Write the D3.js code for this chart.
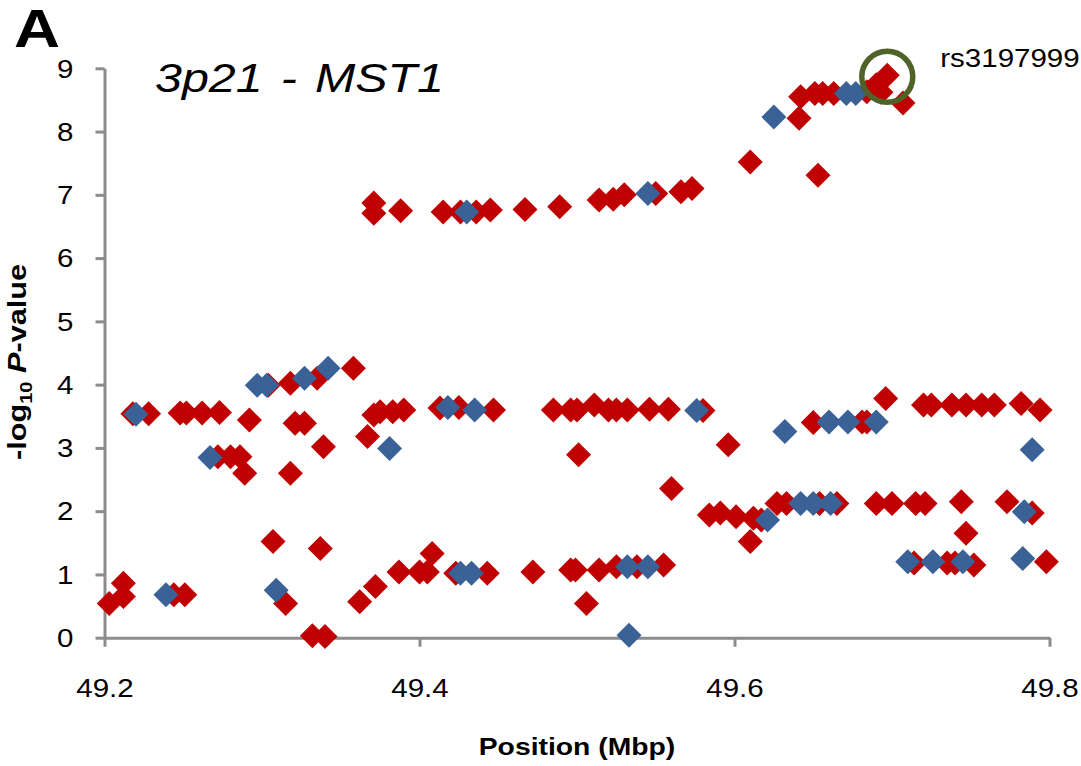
<!DOCTYPE html>
<html>
<head>
<meta charset="utf-8">
<script src="https://cdn.jsdelivr.net/npm/d3@7"></script>
<style>
  html, body { margin: 0; padding: 0; background: #fff; }
  svg { display: block; }
  text { font-family: "Liberation Sans", Arial, sans-serif; fill: #000; }
</style>
</head>
<body>
<svg id="chart" width="1081" height="766"></svg>
<script>
// ---- data ----
const panelLabel = "A";
const regionTitle = "3p21 - MST1";
const xLabel = "Position (Mbp)";
const xTickValues = [49.2, 49.4, 49.6, 49.8];
const yTickValues = [0, 1, 2, 3, 4, 5, 6, 7, 8, 9];

// red series: [position Mbp, -log10 P]
const redPoints = [
  [49.203,0.54],[49.212,0.65],[49.212,0.86],[49.218,3.54],[49.228,3.54],
  [49.244,0.68],[49.251,0.68],[49.248,3.55],[49.252,3.55],[49.262,3.55],
  [49.273,3.56],[49.292,3.44],[49.272,2.86],[49.280,2.86],[49.286,2.86],
  [49.289,2.60],[49.304,3.99],[49.318,4.02],[49.335,4.10],[49.358,4.26],
  [49.307,1.52],[49.315,0.54],[49.318,2.60],[49.321,3.39],[49.327,3.39],
  [49.337,1.41],[49.339,3.02],[49.332,0.03],[49.340,0.02],
  [49.362,0.57],[49.372,0.81],[49.387,1.04],[49.400,1.04],[49.405,1.04],
  [49.408,1.33],[49.423,1.02],[49.443,1.02],[49.472,1.04],[49.496,1.07],
  [49.499,1.07],[49.514,1.07],[49.525,1.12],[49.506,0.54],[49.538,1.12],
  [49.555,1.15],
  [49.371,3.52],[49.375,3.57],[49.383,3.57],[49.390,3.60],[49.367,3.18],
  [49.413,3.63],[49.425,3.64],[49.447,3.60],[49.485,3.60],[49.496,3.60],
  [49.500,3.60],[49.511,3.68],[49.520,3.60],[49.525,3.60],[49.532,3.60],
  [49.546,3.61],[49.558,3.61],[49.580,3.59],[49.501,2.89],[49.596,3.05],
  [49.560,2.36],[49.650,3.40],[49.681,3.41],[49.684,3.41],[49.696,3.78],
  [49.720,3.68],[49.725,3.68],[49.738,3.68],[49.747,3.68],[49.757,3.68],
  [49.765,3.68],[49.782,3.70],[49.794,3.60],
  [49.584,1.94],[49.591,1.97],[49.601,1.91],[49.612,1.89],[49.617,1.86],
  [49.627,2.12],[49.633,2.12],[49.654,2.12],[49.665,2.12],[49.690,2.12],
  [49.700,2.12],[49.715,2.12],[49.721,2.12],[49.744,2.15],[49.773,2.15],
  [49.789,1.97],[49.610,1.52],[49.747,1.65],
  [49.714,1.18],[49.735,1.18],[49.740,1.18],[49.752,1.15],[49.798,1.20],
  [49.371,6.87],[49.371,6.71],[49.388,6.75],[49.415,6.73],[49.426,6.73],
  [49.436,6.73],[49.445,6.76],[49.467,6.77],[49.489,6.81],[49.514,6.92],
  [49.523,6.93],[49.530,7.00],[49.550,7.02],[49.566,7.05],[49.573,7.10],
  [49.610,7.52],[49.653,7.31],[49.641,8.21],[49.642,8.55],[49.651,8.60],
  [49.656,8.60],[49.663,8.60],[49.684,8.63],[49.690,8.74],[49.693,8.62],
  [49.697,8.89],[49.707,8.45]
];

// blue series
const bluePoints = [
  [49.220,3.53],[49.239,0.68],[49.267,2.85],[49.297,3.99],[49.303,3.99],
  [49.327,4.10],[49.342,4.26],[49.309,0.75],[49.381,2.99],[49.418,3.64],
  [49.435,3.60],[49.426,1.02],[49.433,1.02],[49.532,1.12],[49.545,1.12],
  [49.533,0.04],[49.576,3.59],[49.632,3.26],[49.660,3.41],[49.672,3.41],
  [49.690,3.41],[49.621,1.86],[49.642,2.12],[49.650,2.12],[49.661,2.12],
  [49.710,1.20],[49.726,1.20],[49.745,1.20],[49.783,1.25],[49.784,1.99],
  [49.789,2.97],[49.430,6.73],[49.545,7.02],[49.625,8.23],[49.671,8.60],
  [49.677,8.60]
];

const highlightSNP = { x: 49.697, y: 8.89, label: "rs3197999" };

// ---- drawing ----
const svg = d3.select("#chart");
const SX = 1.18; // glyph stretch of the original rendering
const axisColor = "#8c8c8c";
const redColor = "#c00000";
const blueColor = "#3a6297";

const x = d3.scaleLinear().domain([49.2, 49.8]).range([104.5, 1049.5]);
const y = d3.scaleLinear().domain([0, 9]).range([637.7, 68.3]);

function stretchedText(g, px, py, str) {
  return g.append("text")
    .attr("transform", `translate(${px},${py}) scale(${SX},1)`)
    .text(str);
}

// axes
const yAxis = svg.append("g")
  .attr("transform", `translate(${x.range()[0]},0)`)
  .call(d3.axisLeft(y).tickValues(yTickValues).tickFormat(d3.format("d"))
        .tickSizeInner(9).tickSizeOuter(0));
const xAxis = svg.append("g")
  .attr("transform", `translate(0,${y.range()[0]})`)
  .call(d3.axisBottom(x).tickValues(xTickValues).tickFormat(d3.format(".1f"))
        .tickSizeInner(9).tickSizeOuter(0));

[yAxis, xAxis].forEach(a => {
  a.select(".domain").attr("stroke", axisColor).attr("stroke-width", 3);
  a.selectAll(".tick line").attr("stroke", axisColor).attr("stroke-width", 3);
  a.selectAll(".tick text")
    .attr("fill", "#000")
    .style("font-family", '"Liberation Sans", Arial, sans-serif')
    .style("font-size", "25px");
});
yAxis.selectAll(".tick text")
  .attr("x", null).attr("dy", "0.35em")
  .attr("transform", `translate(-31,0) scale(${SX},1)`);
xAxis.selectAll(".tick text")
  .attr("y", null).attr("dy", null)
  .attr("transform", `translate(0,59) scale(${SX},1)`);

// points
const diamond = s => `M0,${-s}L${s},0L0,${s}L${-s},0Z`;
const S = 12.5;
svg.append("g").selectAll("path").data(redPoints).join("path")
  .attr("d", diamond(S))
  .attr("transform", d => `translate(${x(d[0])},${y(d[1])})`)
  .attr("fill", redColor);
svg.append("g").selectAll("path").data(bluePoints).join("path")
  .attr("d", diamond(S))
  .attr("transform", d => `translate(${x(d[0])},${y(d[1])})`)
  .attr("fill", blueColor);

// highlight circle + label
svg.append("circle")
  .attr("cx", x(highlightSNP.x)).attr("cy", y(highlightSNP.y) + 1.5)
  .attr("r", 25.5)
  .attr("fill", "none").attr("stroke", "#4f6228").attr("stroke-width", 5.5);
stretchedText(svg, x(highlightSNP.x) + 53, y(highlightSNP.y) - 8, highlightSNP.label)
  .style("font-size", "25px");

// panel letter & title
stretchedText(svg, 14, 47, panelLabel)
  .style("font-size", "54px").style("font-weight", "bold");
stretchedText(svg, 155, 92, regionTitle)
  .style("font-size", "41px").style("font-style", "italic")
  .style("word-spacing", "4px");

// axis titles
stretchedText(svg, 577, 755, xLabel)
  .attr("text-anchor", "middle")
  .style("font-size", "24px").style("font-weight", "bold");

const yl = svg.append("text")
  .attr("transform", `translate(26,362) rotate(-90) scale(${SX},1)`)
  .attr("text-anchor", "middle")
  .style("font-size", "26px").style("font-weight", "bold");
yl.append("tspan").text("-log");
yl.append("tspan").text("10").style("font-size", "17px").attr("dy", 6);
yl.append("tspan").text("\u00a0").attr("dy", -6);
yl.append("tspan").text("P").style("font-style", "italic");
yl.append("tspan").text("-value");
</script>
</body>
</html>
